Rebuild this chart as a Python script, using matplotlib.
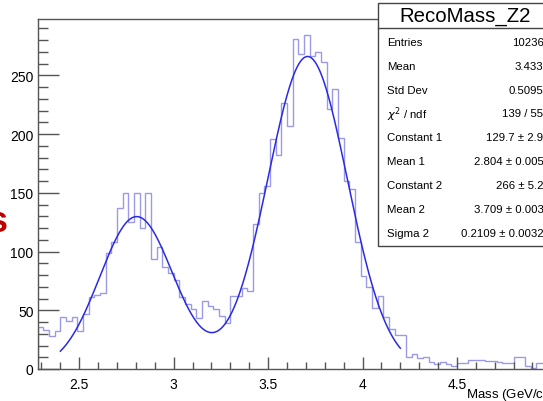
import numpy as np
import matplotlib
matplotlib.use("Agg")
import matplotlib.pyplot as plt
from matplotlib.ticker import MultipleLocator

# histogram RecoMass_Z2, 0.03 GeV bins starting at 2.28
bin_start = 2.28
bin_width = 0.03
counts = [
    35.5, 33, 28.5, 32, 44, 40.5, 44, 32, 47, 61,
    63, 65, 99, 108, 137, 150, 125, 150, 120, 150,
    94, 104, 87, 82, 76, 61, 55, 51, 43, 58,
    54, 51, 45, 39, 62, 62, 69, 66, 123, 150,
    156, 196, 182, 226, 207, 281, 268, 284, 266, 270,
    261, 221, 238, 197, 160, 153, 108, 79, 70, 52,
    62, 44, 34, 29, 29, 10.5, 13, 9.5, 10.5, 6,
    4.5, 6, 4.5, 2.5, 5.5, 5.5, 8, 8, 8, 7,
    7, 6, 5, 5, 10, 10, 2.5, 0.5, 5, 5,
]

# fit parameters from the stats box (sigma 1 fixed, not shown)
const1, mean1, sigma1 = 129.7, 2.804, 0.195
const2, mean2, sigma2 = 266.0, 3.709, 0.2109
fit_lo, fit_hi = 2.4, 4.2

stats_rows = [
    ("Entries", "10236"),
    ("Mean", "3.433"),
    ("Std Dev", "0.5095"),
    (r"$\chi^2$ / ndf", "139 / 55"),
    ("Constant 1", "129.7 ± 2.9"),
    ("Mean 1", "2.804 ± 0.005"),
    ("Constant 2", "266 ± 5.2"),
    ("Mean 2", "3.709 ± 0.003"),
    ("Sigma 2", "0.2109 ± 0.0032"),
]

W, H = 543, 402
plt.rcParams['font.family'] = ['Liberation Sans', 'DejaVu Sans']
fig = plt.figure(figsize=(W / 100, H / 100), dpi=100)

# axes frame runs past the right edge of the picture
x0, x1 = 37.7, 620
y_top, y_bot = 20, 370
ax = fig.add_axes([x0 / W, 1 - y_bot / H, (x1 - x0) / W, (y_bot - y_top) / H])
px_per_unit = 188.85
ax.set_xlim(2.28, 2.28 + (x1 - x0) / px_per_unit)
ax.set_ylim(0, 297.9)

edges = bin_start + bin_width * np.arange(len(counts) + 1)
ax.stairs(counts, edges, color='#9a9ae8', lw=1.0)

xf = np.linspace(fit_lo, fit_hi, 400)
yf = (const1 * np.exp(-0.5 * ((xf - mean1) / sigma1) ** 2)
      + const2 * np.exp(-0.5 * ((xf - mean2) / sigma2) ** 2))
ax.plot(xf, yf, color='#2a2ae6', lw=1.1)

for s in ax.spines.values():
    s.set_color('#555555')
    s.set_linewidth(1.0)
ax.spines['right'].set_visible(False)

ax.xaxis.set_major_locator(MultipleLocator(0.5))
ax.xaxis.set_minor_locator(MultipleLocator(0.1))
ax.yaxis.set_major_locator(MultipleLocator(50))
ax.yaxis.set_minor_locator(MultipleLocator(10))
ax.tick_params(which='both', direction='in', colors='#555555',
               labelcolor='black', labelsize=10, width=1.0)
ax.tick_params(axis='y', which='major', length=15, pad=3)
ax.tick_params(axis='y', which='minor', length=7)
ax.tick_params(axis='x', which='major', length=9, pad=6)
ax.tick_params(axis='x', which='minor', length=5)
ax.tick_params(top=False, right=False)
ax.set_xticks([2.5, 3, 3.5, 4, 4.5], ['2.5', '3', '3.5', '4', '4.5'])

fig.text(466 / W, 1 - 399 / H, 'Mass (GeV/c$^2$)', fontsize=9.5,
         ha='left', va='baseline')

# stats box
bx0, bx1, by0, by1, bdiv = 378.3, 600, 4, 246.7, 29.3
box = plt.Rectangle((bx0 / W, 1 - by1 / H), (bx1 - bx0) / W, (by1 - by0) / H,
                    transform=fig.transFigure, facecolor='white',
                    edgecolor='#444444', lw=1.0, zorder=5)
fig.add_artist(box)
fig.add_artist(plt.Line2D([bx0 / W, 1], [1 - bdiv / H] * 2,
                          transform=fig.transFigure, color='#444444',
                          lw=1.0, zorder=6))
fig.text(465 / W, 1 - 16.5 / H, 'RecoMass_Z2', fontsize=14.7,
         ha='center', va='center', zorder=7)
row_y = 42.7
for name, val in stats_rows:
    fig.text(387.3 / W, 1 - row_y / H, name, fontsize=8.2,
             ha='left', va='center', zorder=7)
    fig.text(543.5 / W, 1 - row_y / H, val, fontsize=8.2,
             ha='right', va='center', zorder=7)
    row_y += 23.9

# leftover red letter from the slide the plot was cut from
fig.text(7.5 / W, 1 - 223 / H, 's', fontsize=26, fontweight='bold',
         color='#c00000', ha='right', va='center')

fig.savefig('out.png', dpi=100)
